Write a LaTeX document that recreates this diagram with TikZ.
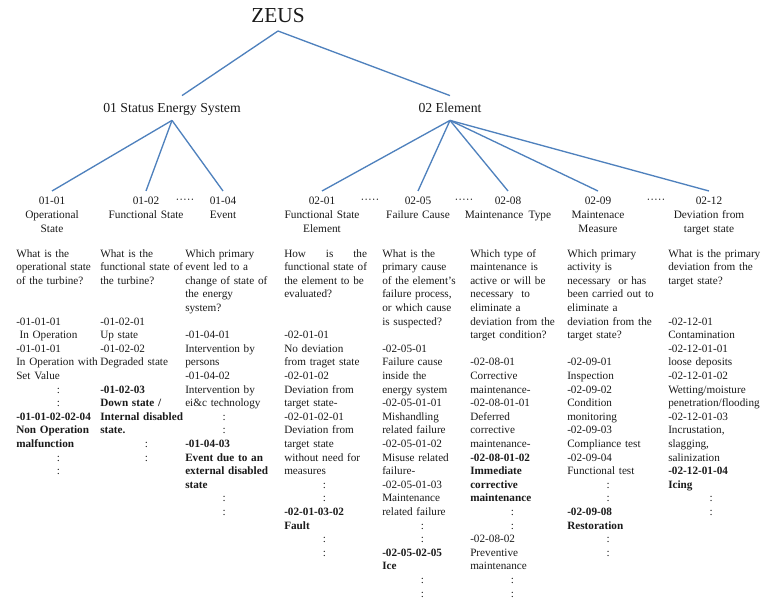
\documentclass[tikz,border=0pt]{standalone}
\usepackage{fontspec}
\setmainfont{Liberation Serif}
\definecolor{linkblue}{HTML}{4F81BD}
\definecolor{ink}{HTML}{1A1A1A}
\newcommand\cln[1]{\hspace*{#1pt}:}
\newcommand\blankln{\mbox{}}
\begin{document}
\begin{tikzpicture}[x=0.75pt,y=-0.75pt,
  conn/.style={draw=linkblue,line width=1pt},
  toplabel/.style={font=\fontsize{16}{19}\selectfont, text=ink, inner xsep=0, inner ysep=6pt, text depth=0pt, anchor=south},
  lvlone/.style={font=\fontsize{10.3}{12}\selectfont, text=ink, inner xsep=0, inner ysep=5pt, text height=7.2pt, text depth=1pt},
  lvltwo/.style={font=\fontsize{8.5}{10.5}\selectfont, text=ink, align=center, text width=80pt, inner xsep=0, inner ysep=4.5pt, anchor=north},
  body/.style={font=\fontsize{8.4}{10.2}\selectfont, text=ink, align=left, text width=85pt, inner sep=0, anchor=north west},
  dotsep/.style={font=\fontsize{8.5}{10.5}\selectfont, text=ink, inner sep=0}
]
\useasboundingbox (0,0) rectangle (769,598);

% root and level one
\node[toplabel] (zeus) at (278,31) {ZEUS};
\node[lvlone] (s1) at (172,108) {01 Status Energy System};
\node[lvlone] (s2) at (450,108) {02 Element};

% level two headers
\node[lvltwo] (h11) at (52,191) {01-01\\Operational\\State};
\node[lvltwo] (h12) at (146,191) {01-02\\Functional State};
\node[lvltwo] (h14) at (223,191) {01-04\\Event};
\node[lvltwo] (h21) at (322,191) {02-01\\Functional State\\Element};
\node[lvltwo] (h25) at (418,191) {02-05\\Failure Cause};
\node[lvltwo] (h28) at (508,191) {02-08\\Maintenance\hspace{4pt}Type};
\node[lvltwo] (h29) at (598,191) {02-09\\Maintenace\\Measure};
\node[lvltwo] (h212) at (709,191) {02-12\\Deviation from\\target state};

\node[dotsep] (d1) at (185,201) {·····};
\node[dotsep] (d2) at (370,201) {·····};
\node[dotsep] (d3) at (464,201) {·····};
\node[dotsep] (d4) at (656,201) {·····};

% connectors
\draw[conn] (zeus.south) -- ([xshift=7.5pt]s1.north);
\draw[conn] (zeus.south) -- (s2.north);
\foreach \c in {h11,h12,h14}{\draw[conn] (s1.south) -- (\c.north);}
\foreach \c in {h21,h25,h28,h29,h212}{\draw[conn] (s2.south) -- (\c.north);}

% body columns
\node[body] (c1) at (16,249) {What is the\\
operational state\\
of the turbine?\\
\blankln\\
\blankln\\
-01-01-01\\
\hspace*{2.5pt}In Operation\\
-01-01-01\\
In Operation with\\
Set Value\\
\cln{30.4}\\
\cln{30.4}\\
\textbf{-01-01-02-02-04}\\
\textbf{Non Operation}\\
\textbf{malfunction}\\
\cln{30.4}\\
\cln{30.4}};

\node[body] (c2) at (100,249) {What is the\\
functional state of\\
the turbine?\\
\blankln\\
\blankln\\
-01-02-01\\
Up state\\
-01-02-02\\
Degraded state\\
\blankln\\
\textbf{-01-02-03}\\
\textbf{Down state /}\\
\textbf{Internal disabled}\\
\textbf{state.}\\
\cln{33.4}\\
\cln{33.4}};

\node[body] (c3) at (185,249) {Which primary\\
event led to a\\
change of state of\\
the energy\\
system?\\
\blankln\\
-01-04-01\\
Intervention by\\
persons\\
-01-04-02\\
Intervention by\\
ei\&c technology\\
\cln{28.1}\\
\cln{28.1}\\
\textbf{-01-04-03}\\
\textbf{Event due to an}\\
\textbf{external disabled}\\
\textbf{state}\\
\cln{28.1}\\
\cln{28.1}};

\node[body] (c4) at (284,249) {\setbox0\hbox{functional state of}\makebox[\wd0][s]{How\hfill is\hfill the}\\
functional state of\\
the element to be\\
evaluated?\\
\blankln\\
\blankln\\
-02-01-01\\
No deviation\\
from traget state\\
-02-01-02\\
Deviation from\\
target state-\\
-02-01-02-01\\
Deviation from\\
target state\\
without need for\\
measures\\
\cln{28.9}\\
\cln{28.9}\\
\textbf{-02-01-03-02}\\
\textbf{Fault}\\
\cln{28.9}\\
\cln{28.9}};

\node[body] (c5) at (382,249) {What is the\\
primary cause\\
of the element's\\
failure process,\\
or which cause\\
is suspected?\\
\blankln\\
-02-05-01\\
Failure cause\\
inside the\\
energy system\\
-02-05-01-01\\
Mishandling\\
related failure\\
-02-05-01-02\\
Misuse related\\
failure-\\
-02-05-01-03\\
Maintenance\\
related failure\\
\cln{28.9}\\
\cln{28.9}\\
\textbf{-02-05-02-05}\\
\textbf{Ice}\\
\cln{28.9}\\
\cln{28.9}};

\node[body] (c6) at (470,249) {Which type of\\
maintenance is\\
active or will be\\
necessary~ to\\
eliminate a\\
deviation from the\\
target condition?\\
\blankln\\
-02-08-01\\
Corrective\\
maintenance-\\
-02-08-01-01\\
Deferred\\
corrective\\
maintenance-\\
\textbf{-02-08-01-02}\\
\textbf{Immediate}\\
\textbf{corrective}\\
\textbf{maintenance}\\
\cln{30.4}\\
\cln{30.4}\\
-02-08-02\\
Preventive\\
maintenance\\
\cln{30.4}\\
\cln{30.4}};

\node[body] (c7) at (567,249) {Which primary\\
activity is\\
necessary~ or has\\
been carried out to\\
eliminate a\\
deviation from the\\
target state?\\
\blankln\\
-02-09-01\\
Inspection\\
-02-09-02\\
Condition\\
monitoring\\
-02-09-03\\
Compliance test\\
-02-09-04\\
Functional test\\
\cln{29.6}\\
\cln{29.6}\\
\textbf{-02-09-08}\\
\textbf{Restoration}\\
\cln{29.6}\\
\cln{29.6}};

\node[body] (c8) at (668,249) {What is the primary\\
deviation from the\\
target state?\\
\blankln\\
\blankln\\
-02-12-01\\
Contamination\\
-02-12-01-01\\
loose deposits\\
-02-12-01-02\\
Wetting/moisture\\
penetration/flooding\\
-02-12-01-03\\
Incrustation,\\
slagging,\\
salinization\\
\textbf{-02-12-01-04}\\
\textbf{Icing}\\
\cln{31.1}\\
\cln{31.1}};
\end{tikzpicture}
\end{document}
